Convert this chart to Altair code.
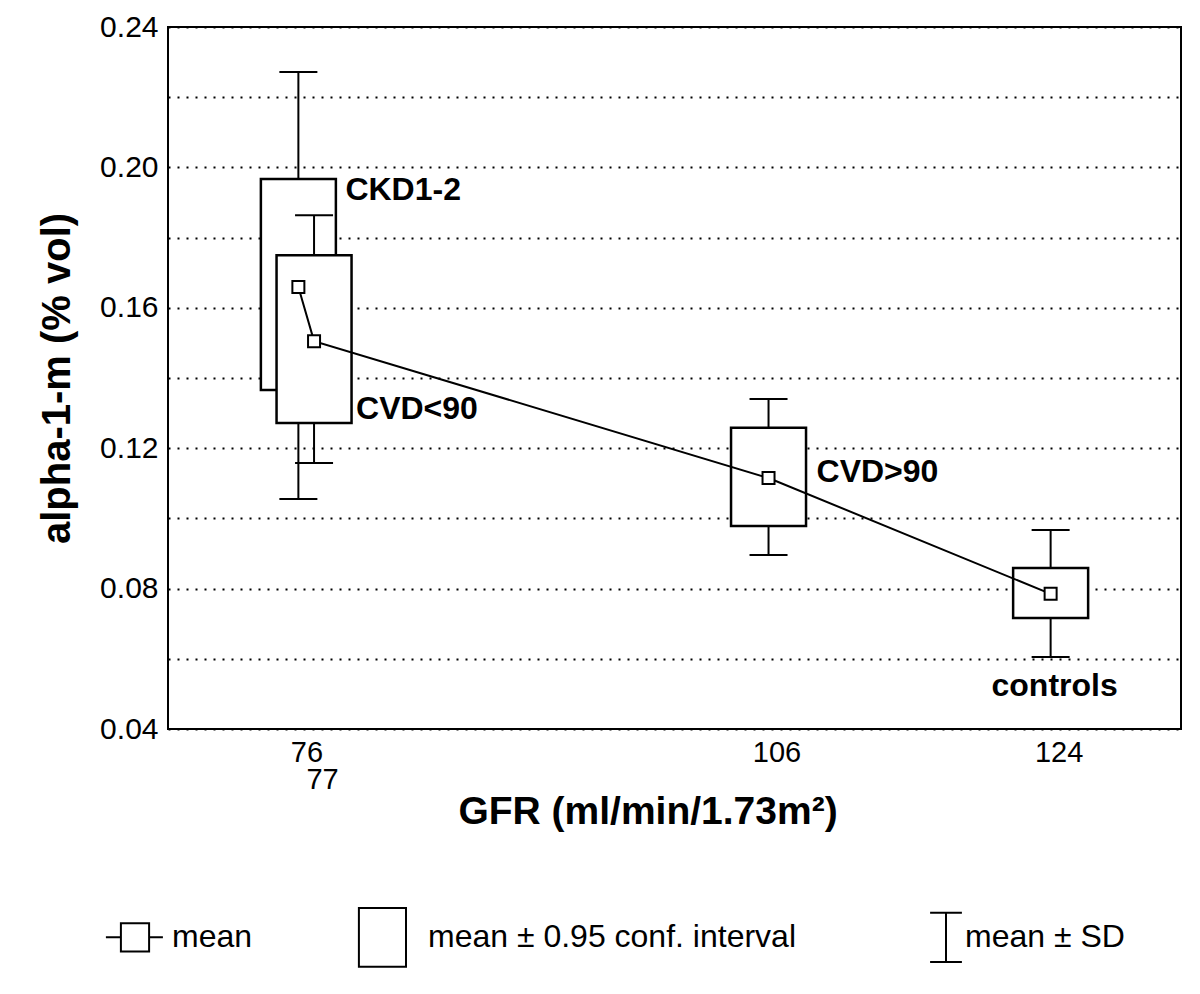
import altair as alt
import pandas as pd

# ---- data ----
groups = ["CKD1-2", "CVD<90", "CVD>90", "controls"]
gfr = [76, 77, 106, 124]
mean = [0.1659, 0.1505, 0.1115, 0.0785]
ci_lo = [0.1366, 0.1272, 0.0978, 0.0716]
ci_hi = [0.1967, 0.1750, 0.1258, 0.0859]
sd_lo = [0.1055, 0.1158, 0.0896, 0.0605]
sd_hi = [0.2272, 0.1864, 0.1340, 0.0967]

x_ticks = [76, 77, 106, 124]
y_ticks = [0.04, 0.06, 0.08, 0.10, 0.12, 0.14, 0.16, 0.18, 0.20, 0.22, 0.24]

legend_items = ["mean", "mean \u00b1 0.95 conf. interval", "mean \u00b1 SD"]

df = pd.DataFrame({
    "group": groups, "gfr": gfr, "mean": mean,
    "ci_lo": ci_lo, "ci_hi": ci_hi, "sd_lo": sd_lo, "sd_hi": sd_hi,
})

FONT = "Liberation Sans"

x_scale = alt.Scale(domain=[68, 132], nice=False, zero=False)
y_scale = alt.Scale(domain=[0.04, 0.24], nice=False, zero=False)

x_axis = alt.Axis(
    values=x_ticks, title="GFR (ml/min/1.73m\u00b2)",
    labelExpr="datum.value == 77 ? ['', '77'] : datum.label",
    labelOverlap=False, labelFontSize=29, labelPadding=9, labelOffset=8,
    labelLineHeight=27, labelColor="black", labelBaseline="top", labelFont=FONT,
    ticks=False, domain=False, grid=False,
    titleFontSize=39, titleFontWeight="bold", titleFont=FONT, titleColor="black",
    titleX=479.5, titleY=94, titleAlign="center", titleBaseline="alphabetic",
)
y_axis = alt.Axis(
    values=y_ticks, title="alpha-1-m (% vol)",
    labelExpr="(round(datum.value*100) % 4 == 0) ? format(datum.value, '.2f') : ''",
    labelFontSize=30, labelPadding=10, labelColor="black", labelFont=FONT,
    ticks=False, domain=False, grid=True, gridDash=[2, 7], gridColor="black",
    gridWidth=2, labelOverlap=False,
    titleFontSize=40, titleFontWeight="bold", titleFont=FONT, titleColor="black",
    titleX=-91, titleY=351, titleAlign="center", titleBaseline="bottom",
)

def X():
    return alt.X("gfr:Q", scale=x_scale, axis=x_axis)

def Y(field):
    return alt.Y(f"{field}:Q", scale=y_scale, axis=y_axis)

base = alt.Chart(df)
layers = []
for g in groups:
    sub = base.transform_filter(alt.datum.group == g)
    layers.append(sub.mark_rule(color="black", strokeWidth=2).encode(
        x=X(), y=Y("sd_lo"), y2="sd_hi:Q"))
    layers.append(sub.mark_tick(orient="horizontal", color="black", size=38,
                                thickness=2, opacity=1).encode(x=X(), y=Y("sd_lo")))
    layers.append(sub.mark_tick(orient="horizontal", color="black", size=38,
                                thickness=2, opacity=1).encode(x=X(), y=Y("sd_hi")))
    layers.append(sub.mark_bar(size=75, fill="white", stroke="black",
                               strokeWidth=2.5).encode(x=X(), y=Y("ci_lo"), y2="ci_hi:Q"))

layers.append(base.mark_line(color="black", strokeWidth=2).encode(
    x=X(), y=Y("mean"), order="gfr:Q"))
layers.append(base.mark_point(shape="square", size=144, filled=True, fill="white",
                              stroke="black", strokeWidth=2, opacity=1).encode(
    x=X(), y=Y("mean")))

label_specs = [
    ("CKD1-2", "ci_hi", "left", 47, 21),
    ("CVD<90", "ci_lo", "left", 42, -4),
    ("CVD>90", "mean", "left", 48, 4),
    ("controls", "sd_lo", "center", 4, 39),
]
for g, field, align, dx, dy in label_specs:
    layers.append(base.transform_filter(alt.datum.group == g).mark_text(
        align=align, baseline="alphabetic", dx=dx, dy=dy, font=FONT,
        fontSize=32, fontWeight="bold", color="black").encode(
        x=X(), y=Y(field), text="group:N"))

legend_paths = [
    "M0,-0.98M0,0.98M-0.97,0L-0.47,0M0.47,0L0.93,0M-0.47,-0.47L0.47,-0.47L0.47,0.47L-0.47,0.47Z",
    "M-1.07,-0.98L0.5,-0.98L0.5,0.98L-1.07,0.98Z",
    "M0,-0.98M0,0.98M0.6,-0.82L0.6,0.82M0.07,-0.82L1.13,-0.82M0.07,0.82L1.13,0.82",
]
legend_df = pd.DataFrame({"item": legend_items})
leg = alt.Chart(legend_df).transform_filter("false").mark_point(
    filled=False, color="black", strokeWidth=2, opacity=1).encode(
    shape=alt.Shape("item:N", scale=alt.Scale(domain=legend_items, range=legend_paths),
                    legend=alt.Legend(
                        title=None, orient="none", legendX=-64, legendY=879,
                        direction="horizontal", columns=3, columnPadding=101,
                        labelFontSize=32, labelFont=FONT, labelColor="black",
                        labelOffset=6, labelLimit=0, symbolSize=3600,
                        symbolStrokeWidth=2, symbolStrokeColor="black",
                        symbolFillColor="white", symbolOpacity=1, padding=0,
                    )))
layers.append(leg)

chart = alt.layer(*layers).properties(
    width=1013, height=702,
    autosize=alt.AutoSizeParams(type="none"),
    padding={"left": 160, "top": 19, "right": 11, "bottom": 257},
).configure(background="white").configure_view(stroke="black", strokeWidth=2)

chart.save("out.html", embed_options={"renderer": "svg", "actions": False})
